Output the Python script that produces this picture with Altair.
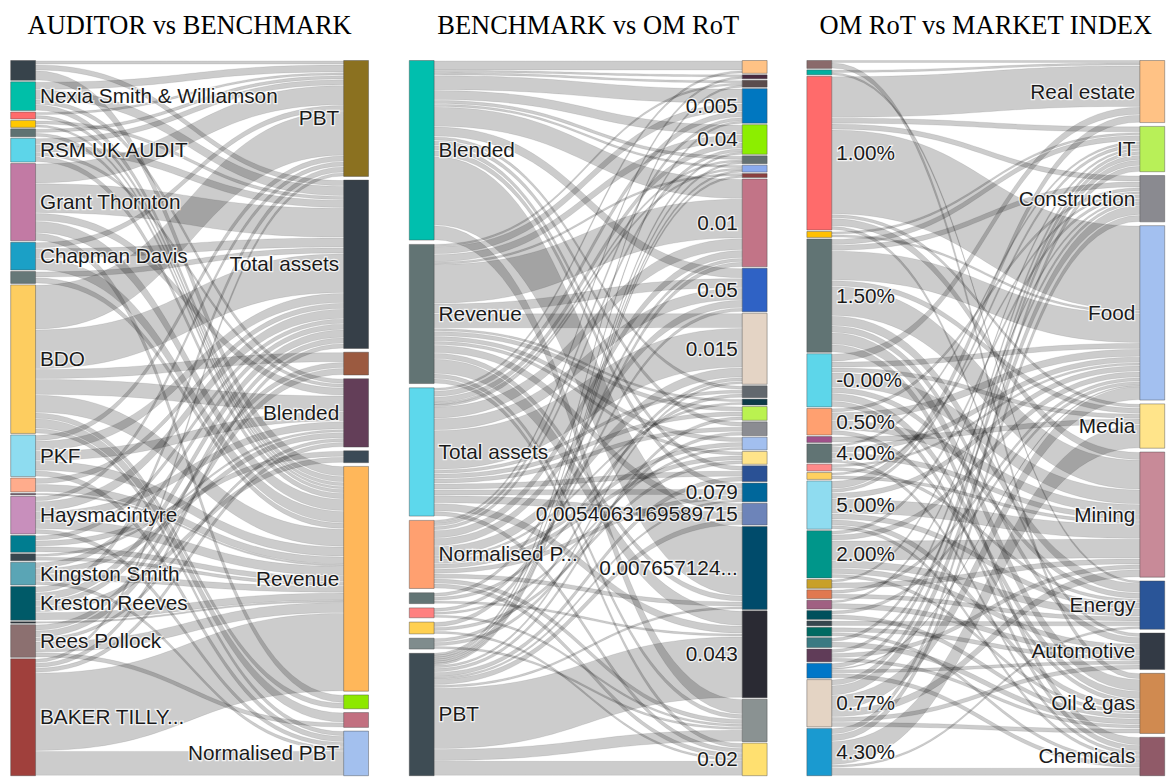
import altair as alt
import numpy as np
import pandas as pd

# ---------------- data ----------------
TITLES = ["AUDITOR vs BENCHMARK", "BENCHMARK vs OM RoT", "OM RoT vs MARKET INDEX"]

# Panel 1 : AUDITOR -> BENCHMARK
P1_LEFT_LABELS = ["", "Nexia Smith & Williamson", "", "", "", "RSM UK AUDIT", "Grant Thornton",
                  "Chapman Davis", "", "BDO", "PKF", "", "", "Haysmacintyre", "", "",
                  "Kingston Smith", "Kreston Reeves", "", "Rees Pollock", "BAKER TILLY..."]
P1_LEFT_COLORS = ["#37434b", "#00bfa8", "#ff6b6b", "#ffc800", "#5f7272", "#5dd5e9", "#c27aa4",
                  "#1ba0c6", "#667878", "#fdcd60", "#8edcf0", "#ffac8c", "#5a3a50", "#c88fbc",
                  "#007d90", "#37474f", "#5aa5b5", "#005a68", "#263238", "#8c7070", "#a0403c"]
P1_RIGHT_LABELS = ["PBT", "Total assets", "", "Blended", "", "Revenue", "", "", "Normalised PBT"]
P1_RIGHT_COLORS = ["#8b7120", "#363f48", "#9b5a40", "#633e58", "#3b4a56", "#ffb75a", "#8de800",
                   "#c27080", "#a3c0ee"]
P1_FLOWS = [
    [4, 6, 0, 0, 0, 10, 0, 0, 0],
    [8, 10, 0, 5, 0, 6, 0, 0, 0],
    [3, 0, 0, 0, 0, 4, 0, 0, 0],
    [0, 4, 0, 0, 0, 3, 0, 0, 0],
    [4, 0, 0, 0, 0, 4, 0, 0, 0],
    [6, 8, 0, 4, 0, 6, 0, 0, 0],
    [20, 30, 0, 8, 0, 12, 8, 0, 0],
    [6, 10, 0, 0, 0, 12, 0, 0, 0],
    [0, 6, 0, 0, 0, 6, 0, 0, 0],
    [45, 40, 10, 16, 0, 18, 6, 10, 5],
    [6, 10, 0, 10, 0, 10, 0, 0, 6],
    [0, 6, 0, 0, 0, 8, 0, 0, 0],
    [0, 0, 0, 0, 0, 1.5, 0, 0, 0],
    [5, 10, 0, 8, 0, 10, 0, 0, 5],
    [0, 5, 0, 0, 6, 6, 0, 0, 0],
    [0, 0, 0, 3, 0, 4, 0, 0, 0],
    [0, 6, 0, 6, 0, 7, 0, 0, 4],
    [6, 8, 6, 0, 6, 8, 0, 0, 0],
    [0, 0, 0, 0, 0, 1.5, 0, 0, 0],
    [0, 6, 7, 4, 0, 11, 0, 5, 0],
    [4, 5, 0, 5, 0, 79, 0, 0, 25],
]

# Panel 2 : BENCHMARK -> OM RoT
P2_LEFT_LABELS = ["Blended", "Revenue", "Total assets", "Normalised P...", "", "", "", "", "PBT"]
P2_LEFT_COLORS = ["#00bfae", "#627474", "#5dd8ec", "#ffa070", "#627474", "#ff8080", "#ffd050",
                  "#7f8c8d", "#3e4c54"]
P2_RIGHT_LABELS = ["", "", "", "0.005", "0.04", "", "", "", "0.01", "0.05", "0.015", "", "", "",
                   "", "", "", "", "0.079", "0.0054063169589715", "0.007657124...", "0.043", "",
                   "0.02"]
P2_RIGHT_COLORS = ["#ffc285", "#4a2a40", "#5a4c4c", "#0077c0", "#8cee00", "#637072", "#8aaaee",
                   "#8a4040", "#c27487", "#2f62c5", "#e4d4c5", "#62686e", "#0d3a48", "#baf250",
                   "#8b8c92", "#a2bfef", "#ffe48a", "#2a5195", "#00679b", "#6d84b9", "#004b6b",
                   "#2a2a33", "#8a9292", "#ffe070"]
P2_FLOWS = [
    [10, 2, 3, 15, 10, 4, 3, 0, 20, 10, 0, 4, 0, 0, 5, 0, 0, 5, 6, 0, 70, 0, 15, 0],
    [0, 0, 2, 8, 8, 0, 0, 2, 40, 10, 15, 0, 3, 5, 0, 5, 4, 0, 0, 8, 6, 15, 5, 5],
    [3, 0, 0, 6, 6, 2, 2, 0, 12, 12, 40, 4, 0, 5, 5, 0, 0, 6, 6, 8, 0, 8, 0, 5],
    [0, 2, 0, 4, 4, 0, 0, 0, 8, 8, 10, 0, 3, 0, 0, 5, 5, 0, 5, 0, 5, 0, 5, 5],
    [0, 0, 0, 0, 0, 0, 0, 0, 4, 0, 0, 4, 0, 0, 0, 0, 0, 0, 0, 0, 0, 3, 0, 0],
    [0, 0, 0, 0, 0, 0, 0, 0, 0, 4, 0, 0, 0, 0, 0, 3, 0, 0, 0, 0, 0, 0, 3, 0],
    [0, 0, 0, 0, 0, 0, 0, 0, 5, 0, 0, 0, 0, 0, 0, 0, 4, 0, 0, 0, 0, 0, 0, 3],
    [0, 0, 0, 0, 0, 0, 0, 0, 0, 0, 4, 0, 0, 0, 4, 0, 0, 0, 0, 0, 0, 0, 3, 0],
    [0, 0, 2, 2, 2, 2, 2, 2, 0, 0, 3, 0, 0, 4, 0, 0, 0, 5, 2, 6, 3, 62, 12, 15],
]

# Panel 3 : OM RoT -> MARKET INDEX
P3_LEFT_LABELS = ["", "", "1.00%", "", "1.50%", "-0.00%", "0.50%", "", "4.00%", "", "", "5.00%",
                  "2.00%", "", "", "", "", "", "", "", "", "", "0.77%", "4.30%"]
P3_LEFT_COLORS = ["#8a6a6a", "#00b0a0", "#ff6b6b", "#ffc000", "#617474", "#5dd6ea", "#ffa070",
                  "#a0508a", "#617474", "#ff8a8a", "#ffd060", "#8fdcf0", "#00968a", "#c8a028",
                  "#e07850", "#a06082", "#00505c", "#37474f", "#006a62", "#3a7a82", "#603c58",
                  "#0077c8", "#e4d4c4", "#1a9ad0"]
P3_RIGHT_LABELS = ["Real estate", "IT", "Construction", "Food", "Media", "Mining", "Energy",
                   "Automotive", "Oil & gas", "Chemicals"]
P3_RIGHT_COLORS = ["#ffc285", "#b8f058", "#8a8a90", "#a3c0f0", "#ffe48a", "#c88a98", "#2a5598",
                   "#333a45", "#d08a50", "#905a68"]
P3_FLOWS = [
    [2, 0, 0, 0, 0, 0, 0, 0, 6, 0],
    [3, 0, 0, 0, 0, 0, 2, 0, 0, 0],
    [42, 6, 6, 86, 4, 8, 0, 4, 0, 0],
    [0, 3, 0, 3, 0, 0, 0, 0, 0, 0],
    [0, 6, 6, 30, 6, 30, 10, 7, 12, 8],
    [8, 0, 0, 6, 5, 15, 6, 0, 8, 6],
    [0, 0, 4, 8, 0, 10, 0, 0, 5, 0],
    [0, 0, 0, 0, 6, 0, 0, 0, 0, 0],
    [0, 3, 0, 6, 0, 6, 0, 0, 0, 4],
    [0, 0, 0, 3, 0, 0, 4, 0, 0, 0],
    [0, 0, 3, 0, 0, 4, 0, 0, 0, 0],
    [8, 4, 0, 6, 0, 15, 6, 0, 6, 4],
    [0, 0, 4, 6, 0, 20, 8, 6, 4, 0],
    [0, 3, 0, 0, 0, 6, 0, 0, 0, 0],
    [0, 0, 0, 4, 0, 0, 5, 0, 0, 0],
    [0, 0, 3, 0, 0, 0, 0, 6, 0, 0],
    [0, 0, 0, 4, 0, 0, 0, 0, 5, 0],
    [0, 0, 0, 0, 0, 0, 5, 0, 0, 0],
    [0, 0, 0, 0, 0, 0, 0, 5, 0, 4],
    [0, 4, 0, 0, 0, 0, 0, 0, 6, 0],
    [0, 0, 4, 0, 0, 5, 0, 0, 4, 0],
    [0, 5, 0, 1, 0, 0, 0, 4, 0, 5],
    [0, 6, 10, 14, 0, 8, 0, 5, 5, 0],
    [0, 6, 7, 0, 24, 0, 3, 0, 0, 8],
]

PANELS = [
    (P1_LEFT_LABELS, P1_LEFT_COLORS, P1_RIGHT_LABELS, P1_RIGHT_COLORS, P1_FLOWS),
    (P2_LEFT_LABELS, P2_LEFT_COLORS, P2_RIGHT_LABELS, P2_RIGHT_COLORS, P2_FLOWS),
    (P3_LEFT_LABELS, P3_LEFT_COLORS, P3_RIGHT_LABELS, P3_RIGHT_COLORS, P3_FLOWS),
]

# ---------------- sankey layout (page pixel units) ----------------
TOP, BOTTOM = 58.5, 778.0
NODE_W = 25.0
PANEL_X0 = [10.7, 411.7, 811.7]
SPAN = 335.0
MIN_PAD = 1.5
N_SAMPLES = 41
INSET = 0.45
H = BOTTOM - TOP


def column(vals, ky):
    h = vals * ky
    gap = (H - h.sum()) / (len(vals) - 1)
    y0 = TOP + np.concatenate([[0.0], np.cumsum(h[:-1] + gap)])
    return y0, y0 + h


node_rows, link_rows, left_lab, right_lab, title_rows = [], [], [], [], []
lid = 0
for p, (ll, lc, rl, rc, flows) in enumerate(PANELS):
    M = np.array(flows, dtype=float)
    lv, rv = M.sum(axis=1), M.sum(axis=0)
    ky = min((H - (len(lv) - 1) * MIN_PAD) / lv.sum(),
             (H - (len(rv) - 1) * MIN_PAD) / rv.sum())
    ly0, ly1 = column(lv, ky)
    ry0, ry1 = column(rv, ky)
    lx0 = PANEL_X0[p]
    lx1 = lx0 + NODE_W
    rx0 = lx0 + SPAN
    rx1 = rx0 + NODE_W
    title_rows.append(dict(x=(lx0 + rx1) / 2, y=31.7, text=TITLES[p]))
    for i in range(len(lv)):
        node_rows.append(dict(x0=lx0, x1=lx1, y0=ly0[i], y1=ly1[i], color=lc[i]))
        if ll[i]:
            left_lab.append(dict(x=lx1 + 4.5, y=(ly0[i] + ly1[i]) / 2, text=ll[i]))
    for j in range(len(rv)):
        node_rows.append(dict(x0=rx0, x1=rx1, y0=ry0[j], y1=ry1[j], color=rc[j]))
        if rl[j]:
            right_lab.append(dict(x=rx0 - 4.5, y=(ry0[j] + ry1[j]) / 2, text=rl[j]))
    s_pos, t_pos = {}, {}
    for i in range(M.shape[0]):
        y = ly0[i]
        for j in range(M.shape[1]):
            if M[i, j] > 0:
                s_pos[(i, j)] = y
                y += M[i, j] * ky
    for j in range(M.shape[1]):
        y = ry0[j]
        for i in range(M.shape[0]):
            if M[i, j] > 0:
                t_pos[(i, j)] = y
                y += M[i, j] * ky
    t = np.linspace(0, 1, N_SAMPLES)
    xm = (lx1 + rx0) / 2
    bx = (1 - t) ** 3 * lx1 + 3 * (1 - t) ** 2 * t * xm + 3 * (1 - t) * t ** 2 * xm + t ** 3 * rx0
    wt = 3 * (1 - t) * t ** 2 + t ** 3
    for (i, j), ys in s_pos.items():
        yt = t_pos[(i, j)]
        w = M[i, j] * ky
        ins = INSET if w > 2.5 else 0.0
        top = ys + (yt - ys) * wt
        for k in range(N_SAMPLES):
            link_rows.append(dict(id=lid, x=bx[k], ya=top[k] + ins, yb=top[k] + w - ins))
        lid += 1

nodes = pd.DataFrame(node_rows)
links = pd.DataFrame(link_rows)
left_df = pd.DataFrame(left_lab)
right_df = pd.DataFrame(right_lab)
title_df = pd.DataFrame(title_rows)

# ---------------- chart ----------------
XS = alt.Scale(domain=[8, 1166], nice=False, zero=False)
YS = alt.Scale(domain=[8, 779], nice=False, zero=False, reverse=True)
FONT = "Liberation Sans"
FS = 20.9

link_layer = alt.Chart(links).mark_area(
    fill="black", fillOpacity=0.2, stroke="black", strokeOpacity=0.12, strokeWidth=0.7
).encode(
    x=alt.X("x:Q", scale=XS, axis=None),
    y=alt.Y("ya:Q", scale=YS, axis=None, stack=None),
    y2="yb:Q",
    detail="id:N",
)

node_layer = alt.Chart(nodes).mark_rect(stroke="#444", strokeWidth=0.7, strokeOpacity=0.6).encode(
    x=alt.X("x0:Q", scale=XS, axis=None),
    x2="x1:Q",
    y=alt.Y("y0:Q", scale=YS, axis=None),
    y2="y1:Q",
    fill=alt.Fill("color:N", scale=None),
)


def labels(df, align):
    enc = dict(x=alt.X("x:Q", scale=XS, axis=None), y=alt.Y("y:Q", scale=YS, axis=None),
               text="text:N")
    halo = alt.Chart(df).mark_text(align=align, baseline="alphabetic", dy=7, font=FONT,
                                   fontSize=FS, fill="white", stroke="white", strokeWidth=2.5,
                                   strokeOpacity=0.75).encode(**enc)
    txt = alt.Chart(df).mark_text(align=align, baseline="alphabetic", dy=7, font=FONT,
                                  fontSize=FS, color="#1a1a1a").encode(**enc)
    return halo, txt


lh, lt = labels(left_df, "left")
rh, rt = labels(right_df, "right")

title_layer = alt.Chart(title_df).mark_text(
    align="center", baseline="alphabetic", font="Liberation Serif", fontSize=26.6, color="black"
).encode(
    x=alt.X("x:Q", scale=XS, axis=None),
    y=alt.Y("y:Q", scale=YS, axis=None),
    text="text:N",
)

chart = alt.layer(link_layer, node_layer, lh, lt, rh, rt, title_layer).properties(
    width=1158, height=771, padding=0, background="white"
).configure_view(strokeWidth=0)

chart.save("out.html", embed_options={"renderer": "svg", "actions": False})
